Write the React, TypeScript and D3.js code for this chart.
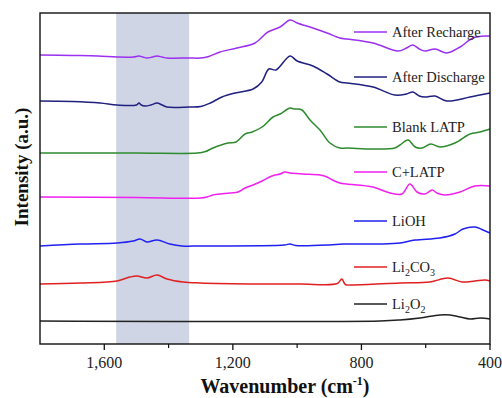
import React from 'react';
import * as d3 from 'd3';

type Pt = [number, number];

const majorTicks = [1600, 1200, 800, 400];
const minorTicks = [1400, 1000, 600];
const bandRange: [number, number] = [1563, 1336];

const afterRecharge: Pt[] = [[1800,2.89],[1700,2.885],[1620,2.88],[1560,2.87],[1510,2.87],[1492,2.88],[1480,2.87],[1467,2.86],[1450,2.87],[1436,2.88],[1420,2.87],[1405,2.86],[1336,2.86],[1300,2.86],[1275,2.875],[1240,2.92],[1187,2.96],[1131,3.01],[1091,3.12],[1053,3.17],[1022,3.24],[1000,3.21],[951,3.16],[907,3.11],[867,3.06],[845,3.05],[764,3.01],[686,2.93],[660,2.96],[640,2.99],[620,2.95],[602,2.93],[571,2.95],[534,2.91],[493,2.97],[453,3.06],[409,3.08],[400,3.08]];
const afterDischarge: Pt[] = [[1800,2.43],[1700,2.425],[1613,2.41],[1560,2.39],[1500,2.39],[1492,2.41],[1485,2.39],[1473,2.38],[1455,2.39],[1436,2.41],[1420,2.39],[1405,2.37],[1336,2.37],[1300,2.375],[1270,2.41],[1234,2.47],[1193,2.51],[1137,2.55],[1110,2.62],[1088,2.75],[1066,2.74],[1022,2.88],[1000,2.83],[951,2.78],[907,2.70],[867,2.62],[845,2.61],[764,2.57],[696,2.49],[660,2.50],[640,2.52],[620,2.48],[602,2.47],[571,2.48],[534,2.43],[462,2.47],[400,2.51]];
const blankLATP: Pt[] = [[1800,1.91],[1500,1.91],[1310,1.91],[1285,1.925],[1262,1.96],[1215,2.01],[1190,2.02],[1162,2.10],[1140,2.12],[1109,2.17],[1075,2.27],[1053,2.30],[1022,2.36],[1010,2.35],[1000,2.35],[985,2.34],[960,2.24],[929,2.14],[898,2.01],[867,1.96],[845,1.96],[764,1.95],[696,1.96],[680,1.99],[655,2.04],[633,1.97],[612,1.96],[584,2.00],[556,1.97],[509,2.01],[462,2.10],[431,2.12],[400,2.15]];
const cLATP: Pt[] = [[1800,1.47],[1500,1.465],[1300,1.46],[1280,1.47],[1262,1.49],[1209,1.51],[1184,1.52],[1162,1.56],[1137,1.59],[1109,1.63],[1078,1.68],[1053,1.70],[1038,1.72],[1022,1.71],[982,1.70],[929,1.69],[907,1.67],[890,1.64],[867,1.61],[845,1.60],[764,1.57],[711,1.51],[674,1.50],[649,1.60],[627,1.52],[602,1.50],[580,1.54],[565,1.51],[540,1.49],[493,1.52],[447,1.58],[400,1.58]];
const liOH: Pt[] = [[1800,0.98],[1676,1.00],[1560,1.01],[1510,1.03],[1489,1.05],[1467,1.02],[1436,1.04],[1396,1.00],[1358,0.98],[1302,0.98],[1040,0.99],[1022,1.00],[1005,0.985],[900,0.99],[857,1.00],[742,1.00],[680,1.01],[633,1.04],[556,1.06],[509,1.10],[484,1.15],[447,1.17],[422,1.14],[400,1.11]];
const li2CO3: Pt[] = [[1800,0.60],[1676,0.61],[1560,0.63],[1520,0.67],[1498,0.68],[1467,0.66],[1436,0.69],[1405,0.65],[1355,0.62],[1302,0.61],[1116,0.60],[991,0.60],[875,0.605],[861,0.65],[850,0.595],[826,0.59],[680,0.61],[587,0.62],[531,0.66],[487,0.62],[447,0.63],[416,0.64],[400,0.63]];
const li2O2: Pt[] = [[1800,0.23],[742,0.23],[680,0.24],[618,0.26],[556,0.29],[524,0.29],[493,0.27],[462,0.25],[431,0.26],[400,0.25]];

const seriesNames = ['After Recharge', 'After Discharge', 'Blank LATP', 'C+LATP', 'LiOH', 'Li2CO3', 'Li2O2'];
const seriesData = [afterRecharge, afterDischarge, blankLATP, cLATP, liOH, li2CO3, li2O2];
const seriesColors = ['#9b30f0', '#202080', '#2e8b2e', '#f020f0', '#2020f0', '#e02020', '#222222'];

const W = 502, H = 398;
const L = 40, R = 490, T = 13, B = 344;
const FONT = '"Liberation Serif", "Times New Roman", serif';

function LegendLabel({ name }: { name: string }) {
  if (name === 'Li2CO3') {
    return (<>Li<tspan fontSize={10} dy={4}>2</tspan><tspan dy={-4}>CO</tspan><tspan fontSize={10} dy={4}>3</tspan></>);
  }
  if (name === 'Li2O2') {
    return (<>Li<tspan fontSize={10} dy={4}>2</tspan><tspan dy={-4}>O</tspan><tspan fontSize={10} dy={4}>2</tspan></>);
  }
  return <>{name}</>;
}

export default function App() {
  const x = d3.scaleLinear().domain([1800, 400]).range([L, R]);
  const y = d3.scaleLinear().domain([0, 3.31]).range([B, T]);
  const line = d3.line<Pt>().x(d => x(d[0])).y(d => y(d[1])).curve(d3.curveCatmullRom.alpha(0.5));
  const legendY = [32, 77, 127, 172, 221, 267, 304];
  const fmt = d3.format(',');

  return (
    <svg width={W} height={H} style={{ position: 'absolute', left: 0, top: 0, background: '#fff' }} fontFamily={FONT}>
      <rect x={x(bandRange[0])} y={T} width={x(bandRange[1]) - x(bandRange[0])} height={B - T} fill="#cfd5e5" />
      {seriesData.map((d, i) => (
        <path key={i} d={line(d) || ''} fill="none" stroke={seriesColors[i]} strokeWidth={1.5} strokeLinejoin="round" />
      ))}
      <rect x={L} y={T} width={R - L} height={B - T} fill="none" stroke="#111" strokeWidth={1.4} />
      {majorTicks.map(t => (
        <g key={t}>
          <line x1={x(t)} x2={x(t)} y1={B} y2={B + 6} stroke="#111" strokeWidth={1.3} />
          <text x={x(t)} y={368} textAnchor="middle" fontSize={16} fill="#222">{fmt(t)}</text>
        </g>
      ))}
      {minorTicks.map(t => (
        <line key={t} x1={x(t)} x2={x(t)} y1={B} y2={B + 4} stroke="#111" strokeWidth={1.2} />
      ))}
      {seriesNames.map((n, i) => (
        <g key={n}>
          <line x1={354} x2={387} y1={legendY[i]} y2={legendY[i]} stroke={seriesColors[i]} strokeWidth={1.5} />
          <text x={392} y={legendY[i] + 5} fontSize={14.5} fill="#222"><LegendLabel name={n} /></text>
        </g>
      ))}
      <text x={285} y={393} textAnchor="middle" fontSize={20} fontWeight="bold" fill="#111">
        Wavenumber (cm<tspan fontSize={12} dy={-8}>-1</tspan><tspan dy={8}>)</tspan>
      </text>
      <text transform={`translate(28,167) rotate(-90)`} textAnchor="middle" fontSize={19} fontWeight="bold" fill="#111">
        Intensity (a.u.)
      </text>
    </svg>
  );
}
